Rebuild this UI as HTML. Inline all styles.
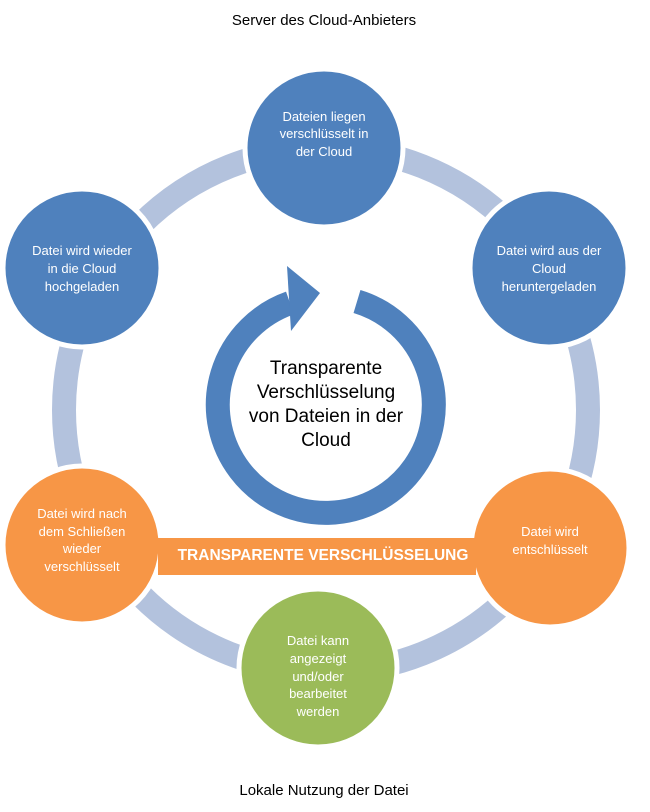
<!DOCTYPE html>
<html><head><meta charset="utf-8"><style>
html,body{margin:0;padding:0;background:#fff;}
svg{display:block;}
text{font-family:"Liberation Sans",sans-serif;}
</style></head><body>
<svg width="650" height="812" viewBox="0 0 650 812" xmlns="http://www.w3.org/2000/svg">
<rect width="650" height="812" fill="#fff"/>
<circle cx="326" cy="410" r="262" fill="none" stroke="#b3c2dd" stroke-width="24"/>
<!-- center arrow -->
<path d="M357 301.5 A108 108 0 1 1 290 303" fill="none" stroke="#4f81bd" stroke-width="24"/>
<polygon points="287,266 320,293 291,331" fill="#4f81bd"/>
<text x="326" y="374" font-size="19" text-anchor="middle" fill="#000">Transparente</text>
<text x="326" y="398" font-size="19" text-anchor="middle" fill="#000">Verschlüsselung</text>
<text x="326" y="422" font-size="19" text-anchor="middle" fill="#000">von Dateien in der</text>
<text x="326" y="446" font-size="19" text-anchor="middle" fill="#000">Cloud</text>
<!-- circles -->
<g stroke="#fff" stroke-width="5">
<circle cx="324" cy="148" r="79" fill="#4f81bd"/>
<circle cx="549" cy="268" r="79" fill="#4f81bd"/>
<circle cx="82" cy="268" r="79" fill="#4f81bd"/>
<circle cx="82" cy="545" r="79" fill="#f79646"/>
<circle cx="550" cy="548" r="79" fill="#f79646"/>
<circle cx="318" cy="668" r="79" fill="#9bbb59"/>
</g>
<!-- orange band -->
<rect x="158" y="538" width="318" height="37" fill="#f79646"/>
<text x="323" y="560" font-size="15.5" font-weight="bold" text-anchor="middle" fill="#fff">TRANSPARENTE VERSCHLÜSSELUNG</text>
<g font-size="13" fill="#fff" text-anchor="middle">
<text x="324" y="121">Dateien liegen</text><text x="324" y="138">verschlüsselt in</text><text x="324" y="156">der Cloud</text>
<text x="549" y="255">Datei wird aus der</text><text x="549" y="273">Cloud</text><text x="549" y="291">heruntergeladen</text>
<text x="82" y="255">Datei wird wieder</text><text x="82" y="273">in die Cloud</text><text x="82" y="291">hochgeladen</text>
<text x="82" y="518">Datei wird nach</text><text x="82" y="536">dem Schließen</text><text x="82" y="553">wieder</text><text x="82" y="571">verschlüsselt</text>
<text x="550" y="536">Datei wird</text><text x="550" y="554">entschlüsselt</text>
<text x="318" y="645">Datei kann</text><text x="318" y="663">angezeigt</text><text x="318" y="681">und/oder</text><text x="318" y="698">bearbeitet</text><text x="318" y="716">werden</text>
</g>
<text x="324" y="25" font-size="15" text-anchor="middle" fill="#000">Server des Cloud-Anbieters</text>
<text x="324" y="795" font-size="15" text-anchor="middle" fill="#000">Lokale Nutzung der Datei</text>
</svg>
</body></html>
